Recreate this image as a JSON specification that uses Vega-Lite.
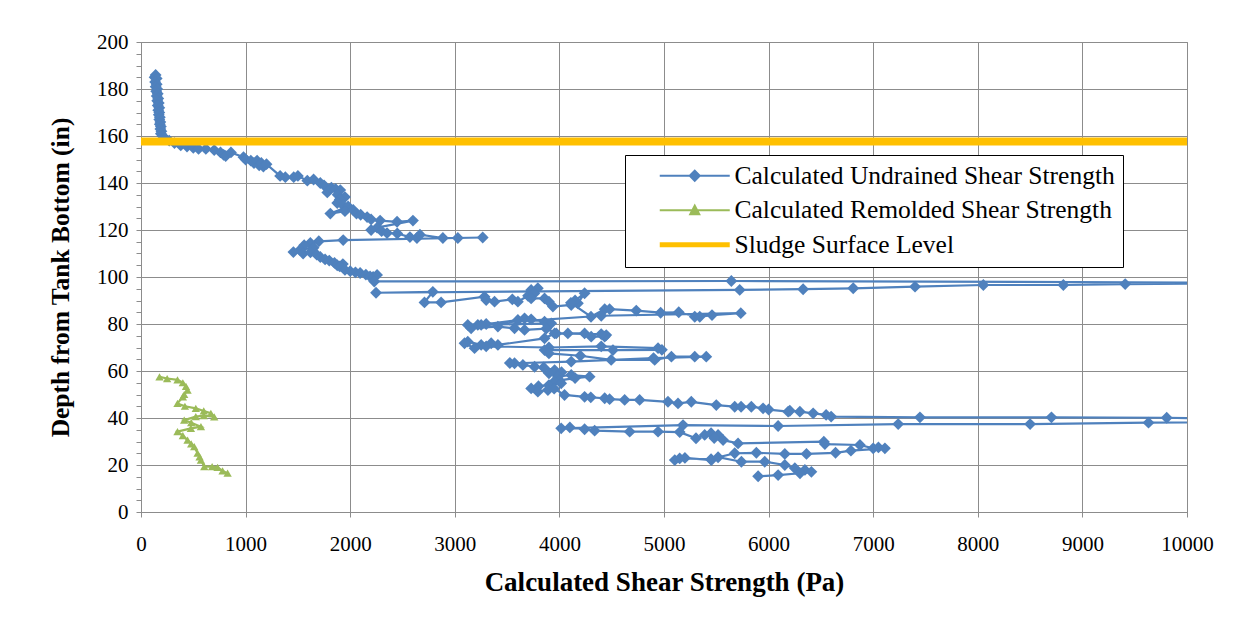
{
  "$schema": "https://vega.github.io/schema/vega-lite/v6.json",
  "width": 1046,
  "height": 470,
  "padding": {"left": 48, "top": 31, "right": 5, "bottom": 5},
  "background": "white",
  "config": {
    "view": {"stroke": "#8c8c8c", "strokeWidth": 1},
    "font": "Liberation Serif",
    "axis": {
      "labelFont": "Liberation Serif", "labelFontSize": 21, "labelColor": "black",
      "titleFont": "Liberation Serif", "titleFontWeight": "bold", "titleColor": "black",
      "gridColor": "#8c8c8c", "gridWidth": 1, "domainColor": "#8c8c8c", "tickColor": "#8c8c8c", "tickSize": 5
    }
  },
  "datasets": {
    "pts": [
      {"s":"U","x":140,"d":186},{"s":"U","x":130,"d":185},{"s":"U","x":150,"d":184.5},{"s":"U","x":135,"d":183},{"s":"U","x":150,"d":182},{"s":"U","x":140,"d":181},{"s":"U","x":155,"d":180},{"s":"U","x":145,"d":179},{"s":"U","x":160,"d":178},{"s":"U","x":150,"d":177},{"s":"U","x":165,"d":176},{"s":"U","x":155,"d":175},{"s":"U","x":170,"d":174},{"s":"U","x":160,"d":173},{"s":"U","x":175,"d":172},{"s":"U","x":165,"d":171},{"s":"U","x":175,"d":170},{"s":"U","x":170,"d":169},{"s":"U","x":180,"d":168},{"s":"U","x":175,"d":167},{"s":"U","x":185,"d":166},{"s":"U","x":180,"d":165},{"s":"U","x":190,"d":164},{"s":"U","x":185,"d":163},{"s":"U","x":195,"d":162},{"s":"U","x":190,"d":161},{"s":"U","x":205,"d":160},{"s":"U","x":230,"d":159},{"s":"U","x":270,"d":158},{"s":"U","x":320,"d":157},{"s":"U","x":380,"d":156},{"s":"U","x":440,"d":155.5},{"s":"U","x":500,"d":155},{"s":"U","x":550,"d":154.5},{"s":"U","x":620,"d":154.5},{"s":"U","x":700,"d":154},{"s":"U","x":760,"d":153},{"s":"U","x":790,"d":152},{"s":"U","x":810,"d":151.5},{"s":"U","x":860,"d":153},{"s":"U","x":980,"d":151},{"s":"U","x":1000,"d":150},{"s":"U","x":1050,"d":149.5},{"s":"U","x":1080,"d":148.5},{"s":"U","x":1110,"d":149.5},{"s":"U","x":1130,"d":147.5},{"s":"U","x":1170,"d":147},{"s":"U","x":1150,"d":148.5},{"s":"U","x":1200,"d":148},
      {"s":"U","x":1330,"d":143},{"s":"U","x":1380,"d":142.5},{"s":"U","x":1460,"d":142.5},{"s":"U","x":1500,"d":143},{"s":"U","x":1590,"d":141},{"s":"U","x":1650,"d":141.5},{"s":"U","x":1714,"d":140},{"s":"U","x":1750,"d":139},{"s":"U","x":1781,"d":136},{"s":"U","x":1820,"d":138},{"s":"U","x":1860,"d":137.5},{"s":"U","x":1905,"d":137},{"s":"U","x":1880,"d":135},{"s":"U","x":1950,"d":134},{"s":"U","x":1900,"d":133},{"s":"U","x":1876,"d":131.5},{"s":"U","x":1930,"d":130.5},{"s":"U","x":1980,"d":130},{"s":"U","x":1810,"d":127},{"s":"U","x":1950,"d":128},{"s":"U","x":2029,"d":128.5},{"s":"U","x":2060,"d":127},{"s":"U","x":2100,"d":126.5},{"s":"U","x":2162,"d":125.5},{"s":"U","x":2200,"d":124.5},{"s":"U","x":2286,"d":124},{"s":"U","x":2448,"d":123.5},{"s":"U","x":2600,"d":124},{"s":"U","x":2257,"d":121},{"s":"U","x":2200,"d":120},{"s":"U","x":2300,"d":119.5},{"s":"U","x":2352,"d":118.7},{"s":"U","x":2450,"d":118.5},{"s":"U","x":2571,"d":117},{"s":"U","x":2638,"d":116.6},{"s":"U","x":2667,"d":118},{"s":"U","x":2886,"d":116.6},{"s":"U","x":3029,"d":116.6},{"s":"U","x":3267,"d":116.8},
      {"s":"U","x":1933,"d":115.7},{"s":"U","x":1700,"d":115.2},{"s":"U","x":1619,"d":114.5},{"s":"U","x":1560,"d":113.5},{"s":"U","x":1650,"d":112.5},{"s":"U","x":1520,"d":111.5},{"s":"U","x":1457,"d":110.6},{"s":"U","x":1550,"d":110},{"s":"U","x":1620,"d":110.5},{"s":"U","x":1680,"d":109.5},{"s":"U","x":1714,"d":108.5},{"s":"U","x":1760,"d":107.5},{"s":"U","x":1800,"d":107},{"s":"U","x":1850,"d":106},{"s":"U","x":1876,"d":105},{"s":"U","x":1930,"d":105.5},{"s":"U","x":1900,"d":104.5},{"s":"U","x":1950,"d":103},{"s":"U","x":2000,"d":102.5},{"s":"U","x":2050,"d":102},{"s":"U","x":2095,"d":101.7},{"s":"U","x":2150,"d":101},{"s":"U","x":2190,"d":100.2},{"s":"U","x":2219,"d":100},{"s":"U","x":2257,"d":100.9},{"s":"U","x":2230,"d":98.1},
      {"s":"U","x":5644,"d":98.3},{"s":"U","x":11000,"d":97.5},{"s":"U","x":9409,"d":97},{"s":"U","x":8818,"d":96.6},{"s":"U","x":8053,"d":96.6},{"s":"U","x":7400,"d":95.9},{"s":"U","x":6809,"d":95.2},{"s":"U","x":6330,"d":94.8},{"s":"U","x":5724,"d":94.5},{"s":"U","x":2247,"d":93.3},{"s":"U","x":2790,"d":93.7},{"s":"U","x":2710,"d":89.2},{"s":"U","x":2869,"d":89.2},{"s":"U","x":3284,"d":91.6},{"s":"U","x":3300,"d":90.2},{"s":"U","x":3380,"d":89.5},{"s":"U","x":3550,"d":90.5},{"s":"U","x":3603,"d":89.5},{"s":"U","x":3700,"d":92},{"s":"U","x":3730,"d":94.5},{"s":"U","x":3794,"d":95.2},{"s":"U","x":3760,"d":93},{"s":"U","x":3730,"d":90.9},{"s":"U","x":3858,"d":90.9},{"s":"U","x":3900,"d":89.5},{"s":"U","x":3938,"d":87.4},{"s":"U","x":4113,"d":88.1},{"s":"U","x":4177,"d":88.8},{"s":"U","x":4241,"d":93.1},{"s":"U","x":4150,"d":90},{"s":"U","x":4110,"d":89},
      {"s":"U","x":4302,"d":83.1},{"s":"U","x":4433,"d":86.3},{"s":"U","x":4480,"d":86.3},{"s":"U","x":4735,"d":85.7},{"s":"U","x":4968,"d":84.8},{"s":"U","x":5141,"d":85},{"s":"U","x":5294,"d":83.1},{"s":"U","x":5342,"d":83.1},{"s":"U","x":5459,"d":83.8},{"s":"U","x":5734,"d":84.6},{"s":"U","x":4400,"d":83.5},
      {"s":"U","x":3124,"d":79.6},{"s":"U","x":3220,"d":79.6},{"s":"U","x":3300,"d":80},{"s":"U","x":3603,"d":81.7},{"s":"U","x":3667,"d":82.4},{"s":"U","x":3730,"d":82},{"s":"U","x":3858,"d":81},{"s":"U","x":3922,"d":80.3},{"s":"U","x":3252,"d":79.6},{"s":"U","x":3156,"d":78.2},{"s":"U","x":3412,"d":78.9},{"s":"U","x":3571,"d":78.2},{"s":"U","x":3667,"d":77.5},{"s":"U","x":3874,"d":78},{"s":"U","x":3970,"d":76},{"s":"U","x":4081,"d":76},{"s":"U","x":4241,"d":76},{"s":"U","x":4304,"d":74.6},{"s":"U","x":4433,"d":74.6},{"s":"U","x":4448,"d":75.3},{"s":"U","x":4400,"d":75.7},{"s":"U","x":3954,"d":76},{"s":"U","x":3858,"d":73.9},{"s":"U","x":3412,"d":71.1},{"s":"U","x":3348,"d":71.8},{"s":"U","x":3252,"d":71.1},{"s":"U","x":3124,"d":72.5},{"s":"U","x":3093,"d":71.8},{"s":"U","x":3189,"d":69.7},{"s":"U","x":3300,"d":70.5},{"s":"U","x":3900,"d":70},{"s":"U","x":4400,"d":70.5},{"s":"U","x":4943,"d":69.7},{"s":"U","x":4980,"d":69},{"s":"U","x":4512,"d":68.9},{"s":"U","x":3858,"d":68.9},{"s":"U","x":3900,"d":67.5},{"s":"U","x":4200,"d":66.5},{"s":"U","x":4495,"d":64.7},{"s":"U","x":4911,"d":64.7},{"s":"U","x":5071,"d":66.1},{"s":"U","x":5294,"d":66.1},{"s":"U","x":5404,"d":66.1},{"s":"U","x":4900,"d":65.5},{"s":"U","x":4113,"d":64},{"s":"U","x":3571,"d":63.3},{"s":"U","x":3526,"d":63.4},{"s":"U","x":3651,"d":62.6},{"s":"U","x":3763,"d":61.8},{"s":"U","x":3850,"d":61.5},{"s":"U","x":3954,"d":60.4},{"s":"U","x":4020,"d":59.5},{"s":"U","x":3900,"d":59},{"s":"U","x":3986,"d":57.6},{"s":"U","x":4113,"d":58.3},{"s":"U","x":4289,"d":57.6},{"s":"U","x":4150,"d":57},{"s":"U","x":4000,"d":56},{"s":"U","x":3950,"d":55.5},{"s":"U","x":4017,"d":54.8},{"s":"U","x":3900,"d":54},{"s":"U","x":3800,"d":53.5},{"s":"U","x":3730,"d":52.6},{"s":"U","x":3794,"d":51.2},{"s":"U","x":3890,"d":51.9},{"s":"U","x":3950,"d":52.5},
      {"s":"U","x":4049,"d":49.8},{"s":"U","x":4241,"d":49},{"s":"U","x":4300,"d":48.8},{"s":"U","x":4433,"d":48.4},{"s":"U","x":4480,"d":48},{"s":"U","x":4624,"d":47.7},{"s":"U","x":4767,"d":47.7},{"s":"U","x":5038,"d":46.9},{"s":"U","x":5134,"d":46.2},{"s":"U","x":5261,"d":46.9},{"s":"U","x":5500,"d":45.5},{"s":"U","x":5676,"d":44.8},{"s":"U","x":5737,"d":44.8},{"s":"U","x":5835,"d":44.8},{"s":"U","x":5947,"d":44.1},{"s":"U","x":6000,"d":43.6},{"s":"U","x":6187,"d":42.7},{"s":"U","x":6203,"d":43.1},{"s":"U","x":6299,"d":42.7},{"s":"U","x":6426,"d":42},{"s":"U","x":6550,"d":41.3},{"s":"U","x":6598,"d":40.6},{"s":"U","x":7447,"d":40.3},{"s":"U","x":8704,"d":40.3},{"s":"U","x":9806,"d":40.1},{"s":"U","x":11500,"d":38.5},{"s":"U","x":9632,"d":38},{"s":"U","x":8500,"d":37.4},{"s":"U","x":7239,"d":37.4},{"s":"U","x":6091,"d":36.6},{"s":"U","x":5182,"d":37},
      {"s":"U","x":4017,"d":35.6},{"s":"U","x":4100,"d":36},{"s":"U","x":4241,"d":35.2},{"s":"U","x":4337,"d":34.6},{"s":"U","x":4672,"d":34.2},{"s":"U","x":4943,"d":34.2},{"s":"U","x":5150,"d":34},{"s":"U","x":5306,"d":31.4},{"s":"U","x":5389,"d":32.8},{"s":"U","x":5450,"d":33.5},{"s":"U","x":5517,"d":32.8},{"s":"U","x":5480,"d":31.5},{"s":"U","x":5565,"d":30.6},{"s":"U","x":5708,"d":29.2},{"s":"U","x":6528,"d":29.9},{"s":"U","x":6538,"d":28.9},{"s":"U","x":6873,"d":28.5},{"s":"U","x":7000,"d":27.1},{"s":"U","x":7050,"d":27.5},{"s":"U","x":7112,"d":27.1},{"s":"U","x":6787,"d":26.1},{"s":"U","x":6640,"d":25.2},{"s":"U","x":6362,"d":24.7},{"s":"U","x":6155,"d":24.7},{"s":"U","x":5883,"d":25.2},{"s":"U","x":5676,"d":25},{"s":"U","x":5450,"d":22.5},{"s":"U","x":5150,"d":22.8},{"s":"U","x":5103,"d":22.1},{"s":"U","x":5200,"d":23},{"s":"U","x":5453,"d":22.1},{"s":"U","x":5517,"d":23.3},{"s":"U","x":5740,"d":21.4},{"s":"U","x":5963,"d":21.4},{"s":"U","x":6155,"d":20},{"s":"U","x":6251,"d":18.6},{"s":"U","x":6347,"d":17.9},{"s":"U","x":6409,"d":17.1},{"s":"U","x":6300,"d":16.5},{"s":"U","x":6091,"d":15.7},{"s":"U","x":5900,"d":15.2},
      {"s":"R","x":177,"d":57.5},{"s":"R","x":250,"d":56.8},{"s":"R","x":349,"d":56.2},{"s":"R","x":400,"d":55},{"s":"R","x":430,"d":53.5},{"s":"R","x":445,"d":51.9},{"s":"R","x":413,"d":50},{"s":"R","x":400,"d":49},{"s":"R","x":349,"d":46.2},{"s":"R","x":420,"d":45},{"s":"R","x":524,"d":44.1},{"s":"R","x":600,"d":43},{"s":"R","x":668,"d":42},{"s":"R","x":700,"d":40.5},{"s":"R","x":600,"d":41},{"s":"R","x":524,"d":40.6},{"s":"R","x":413,"d":39.1},{"s":"R","x":480,"d":38},{"s":"R","x":573,"d":36.3},{"s":"R","x":477,"d":35.6},{"s":"R","x":349,"d":34.2},{"s":"R","x":400,"d":32.5},{"s":"R","x":445,"d":30.6},{"s":"R","x":480,"d":29},{"s":"R","x":509,"d":27.8},{"s":"R","x":541,"d":25},{"s":"R","x":560,"d":23.5},{"s":"R","x":573,"d":22.1},{"s":"R","x":605,"d":19.3},{"s":"R","x":680,"d":19.3},{"s":"R","x":732,"d":19},{"s":"R","x":780,"d":17.5},{"s":"R","x":828,"d":16.5}
    ],
    "lvl": [{"s":"L","d":157.7}]
  },
  "encoding": {
    "y": {
      "field": "d", "type": "quantitative",
      "scale": {"domain": [0, 200], "nice": false, "zero": false},
      "axis": {
        "title": "Depth from Tank Bottom (in)",
        "titleFontSize": 25.5,
        "values": [0,5,10,15,20,25,30,35,40,45,50,55,60,65,70,75,80,85,90,95,100,105,110,115,120,125,130,135,140,145,150,155,160,165,170,175,180,185,190,195,200],
        "labelExpr": "datum.value % 20 === 0 ? datum.label : ''",
        "labelOverlap": false,
        "gridOpacity": {"condition": {"test": "datum.value % 20 === 0", "value": 1}, "value": 0},
        "labelPadding": 8,
        "titlePadding": 23
      }
    }
  },
  "layer": [
    {
      "data": {"name": "pts"},
      "mark": {"type": "line", "strokeWidth": 2.2, "clip": true},
      "encoding": {
        "x": {
          "field": "x", "type": "quantitative",
          "scale": {"domain": [0, 10000], "nice": false},
          "axis": {
            "title": "Calculated Shear Strength (Pa)",
            "titleFontSize": 27,
            "format": "d",
            "values": [0,1000,2000,3000,4000,5000,6000,7000,8000,9000,10000],
            "labelFlush": false, "labelOverlap": false,
            "labelPadding": 16, "titlePadding": 15
          }
        },
        "color": {
          "field": "s", "type": "nominal",
          "scale": {"domain": ["U", "R", "L"], "range": ["#4F81BD", "#9BBB59", "#FFC000"]},
          "legend": {
            "orient": "none", "legendX": 484, "legendY": 113,
            "title": null,
            "strokeColor": "black", "fillColor": "white", "padding": 8,
            "labelFont": "Liberation Serif", "labelFontSize": 25.5, "labelColor": "black",
            "labelLimit": 600,
            "symbolSize": 100, "symbolOffset": 19, "labelOffset": 57, "rowPadding": 7.5,
            "labelExpr": "datum.value === 'U' ? 'Calculated Undrained Shear Strength' : datum.value === 'R' ? 'Calculated Remolded Shear Strength' : 'Sludge Surface Level'",
            "encode": {
              "symbols": {
                "update": {
                  "shape": {"signal": "datum.value === 'U' ? 'M-1,0H13M5,0L6,-1L7,0L6,1Z' : datum.value === 'R' ? 'M-1,0H13M5.1,0.8L6,-0.9L6.9,0.8Z' : 'M-1,0H13'"},
                  "fill": {"signal": "datum.value === 'U' ? '#4F81BD' : datum.value === 'R' ? '#9BBB59' : 'transparent'"},
                  "stroke": {"signal": "datum.value === 'U' ? '#4F81BD' : datum.value === 'R' ? '#9BBB59' : '#FFC000'"},
                  "strokeWidth": {"signal": "datum.value === 'L' ? 5 : 2"},
                  "opacity": {"value": 1},
                  "fillOpacity": {"value": 1},
                  "strokeOpacity": {"value": 1}
                }
              }
            }
          }
        },
        "order": {"value": null},
        "detail": {"field": "s"}
      }
    },
    {
      "data": {"name": "pts"},
      "transform": [{"filter": "datum.s === 'U'"}],
      "mark": {"type": "point", "shape": "diamond", "filled": true, "size": 140, "opacity": 1, "clip": true},
      "encoding": {
        "x": {"field": "x", "type": "quantitative"},
        "color": {"field": "s", "type": "nominal"}
      }
    },
    {
      "data": {"name": "pts"},
      "transform": [{"filter": "datum.s === 'R'"}],
      "mark": {"type": "point", "shape": "triangle-up", "filled": true, "size": 70, "opacity": 1, "clip": true},
      "encoding": {
        "x": {"field": "x", "type": "quantitative"},
        "color": {"field": "s", "type": "nominal"}
      }
    },
    {
      "data": {"name": "lvl"},
      "mark": {"type": "rule", "strokeWidth": 8},
      "encoding": {
        "color": {"field": "s", "type": "nominal"}
      }
    }
  ]
}
